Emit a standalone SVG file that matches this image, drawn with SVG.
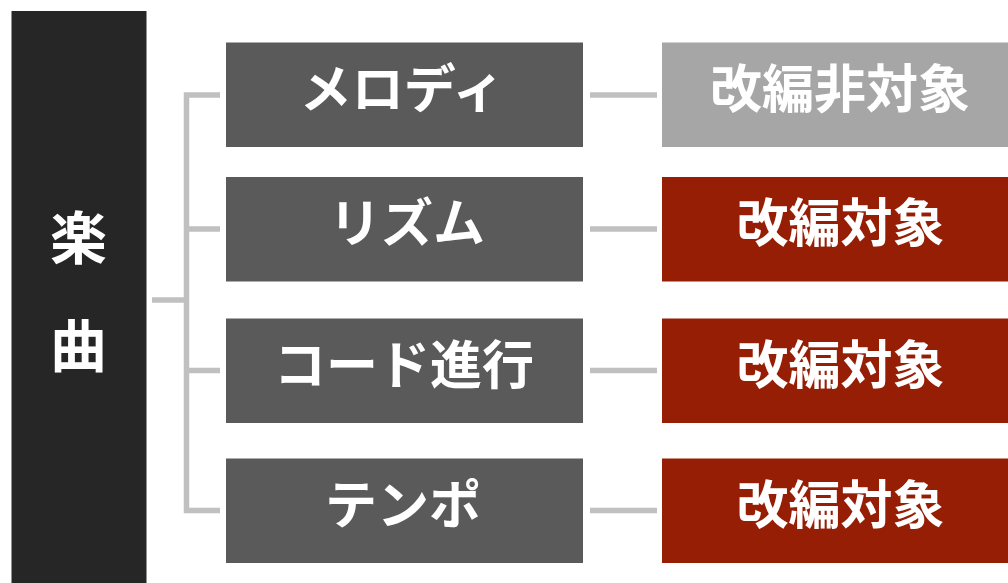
<svg xmlns="http://www.w3.org/2000/svg" width="1008" height="583" viewBox="0 0 1008 583">
<style>
.t{font-family:"Noto Sans CJK JP","Noto Sans",sans-serif;font-weight:bold;fill:#ffffff;text-anchor:middle;font-size:52px}
.mid{fill:#5a5a5a}
.red{fill:#951e05}
.gray{fill:#a6a6a6}
.ln{stroke:#c0c0c0;stroke-width:5.5;fill:none}
</style>
<rect width="1008" height="583" fill="#ffffff"/>
<g id="root">
<rect x="11.5" y="11" width="135" height="580" fill="#262626"/>
<text class="t" x="78.5" y="259" style="font-size:57px">楽</text>
<text class="t" x="78.5" y="367" style="font-size:57px">曲</text>
</g>
<g id="connectors">
<path class="ln" d="M220 95 H186.5 V510.5 H220 M186.5 229 H220 M186.5 370.5 H220 M152 300 H186.5"/>
<path class="ln" d="M590 95 H657 M590 229 H657 M590 370.5 H657 M590 510.5 H657"/>
</g>
<g id="melody">
<rect class="mid" x="226" y="42.5" width="357" height="104.5"/>
<text class="t" x="402" y="108">メロディ</text>
</g>
<g id="rhythm">
<rect class="mid" x="226" y="177" width="357" height="104.5"/>
<text class="t" x="407" y="242">リズム</text>
</g>
<g id="chord">
<rect class="mid" x="226" y="318.5" width="357" height="104.5"/>
<text class="t" x="404" y="383.5">コード進行</text>
</g>
<g id="tempo">
<rect class="mid" x="226" y="458.5" width="357" height="104.5"/>
<text class="t" x="403" y="523.5">テンポ</text>
</g>
<g id="melody-status">
<rect class="gray" x="662" y="42.5" width="357" height="104.5"/>
<text class="t" x="840" y="108">改編非対象</text>
</g>
<g id="rhythm-status">
<rect class="red" x="662" y="177" width="357" height="104.5"/>
<text class="t" x="840.5" y="242">改編対象</text>
</g>
<g id="chord-status">
<rect class="red" x="662" y="318.5" width="357" height="104.5"/>
<text class="t" x="840.5" y="383.5">改編対象</text>
</g>
<g id="tempo-status">
<rect class="red" x="662" y="458.5" width="357" height="104.5"/>
<text class="t" x="840.5" y="523.5">改編対象</text>
</g>
</svg>
